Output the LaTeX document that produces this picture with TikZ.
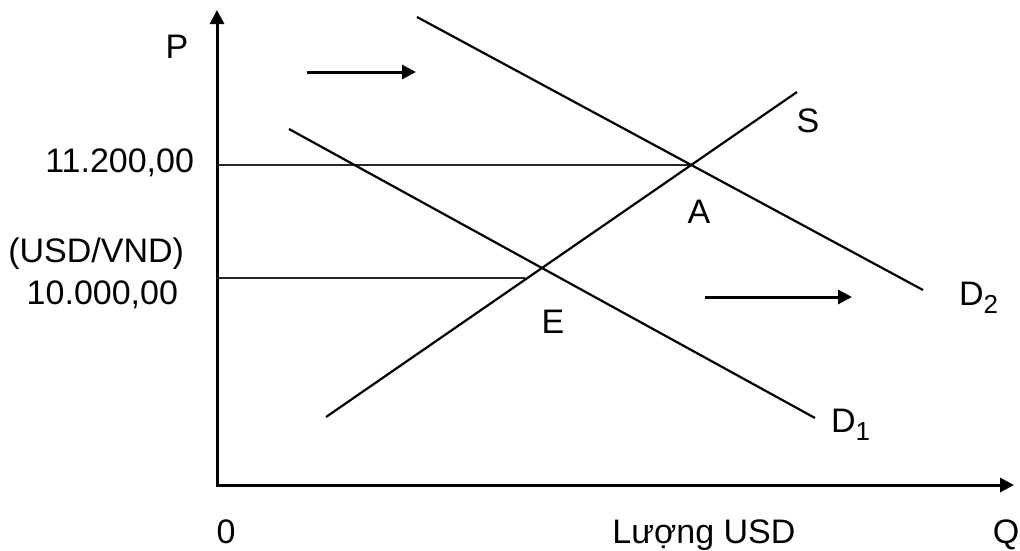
\documentclass[tikz,border=0pt]{standalone}
\usepackage{fontspec}
\setmainfont{Liberation Sans}
\usetikzlibrary{arrows.meta}
\tikzset{
  lbl/.style={inner sep=0pt, outer sep=0pt, font=\fontsize{34}{41}\selectfont},
  axisline/.style={line width=3pt, -{Triangle[length=14pt,width=14pt]}},
  curve/.style={line width=2.2pt},
  level/.style={line width=2pt, black!85},
  shiftarrow/.style={line width=3pt, -{Triangle[length=14pt,width=14pt]}}
}
\newcommand{\subd}[1]{\raisebox{-8pt}{\fontsize{26}{26}\selectfont #1}}
\begin{document}
\begin{tikzpicture}[x=1pt,y=-1pt]
\useasboundingbox (0,0) rectangle (1020,550);
% coordinates
\coordinate (O) at (217,485);
\coordinate (Ytop) at (217,10);
\coordinate (Xend) at (1014,485);
\coordinate (D2a) at (417,17);
\coordinate (D2b) at (923,290);
\coordinate (Sa) at (326,417);
\coordinate (Sb) at (797,92);
\coordinate (D1a) at (289,129);
\coordinate (D1b) at (815,418);
\coordinate (L1a) at (217,165);
\coordinate (A) at (690,165);
\coordinate (L2a) at (217,278);
\coordinate (L2b) at (525,278);
\coordinate (Ar1a) at (307,72);
\coordinate (Ar1b) at (416,72);
\coordinate (Ar2a) at (705,297);
\coordinate (Ar2b) at (852,297);
% axes
\draw[axisline] (O) -- (Ytop);
\draw[axisline] ([xshift=-1.5pt]O) -- (Xend);
% levels
\draw[level] (L1a) -- (A);
\draw[level] (L2a) -- (L2b);
% curves
\draw[curve] (D2a) -- (D2b);
\draw[curve] (Sa) -- (Sb);
\draw[curve] (D1a) -- (D1b);
% shift arrows
\draw[shiftarrow] (Ar1a) -- (Ar1b);
\draw[shiftarrow] (Ar2a) -- (Ar2b);
% labels
\node[lbl, anchor=base] (tP) at (177,58) {P};
\node[lbl, anchor=base east] (t112) at (194,172) {11.200,00};
\node[lbl, anchor=base east] (tunit) at (184,262) {(USD/VND)};
\node[lbl, anchor=base east] (t100) at (178,304) {10.000,00};
\node[lbl, anchor=base] (tS) at (808,132) {S};
\node[lbl, anchor=base] (tA) at (699,223) {A};
\node[lbl, anchor=base] (tE) at (553,333) {E};
\node[lbl, anchor=base west] (tD2) at (959,305) {D\subd{2}};
\node[lbl, anchor=base west] (tD1) at (831,432) {D\subd{1}};
\node[lbl, anchor=base] (t0) at (226,543) {0};
\node[lbl, anchor=base] (tQty) at (704,543) {Lượng USD};
\node[lbl, anchor=base] (tQ) at (1006,543) {Q};
\end{tikzpicture}
\end{document}
